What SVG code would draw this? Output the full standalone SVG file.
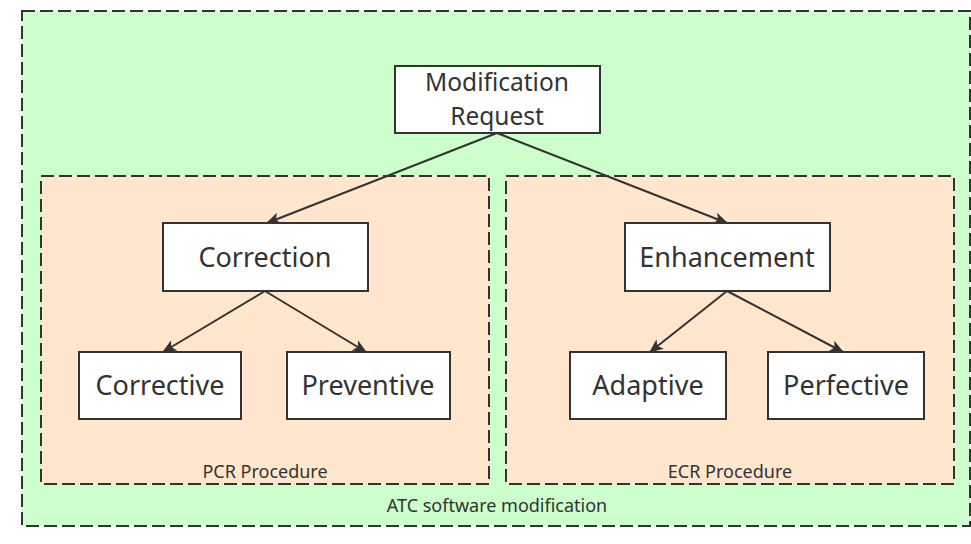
<svg xmlns="http://www.w3.org/2000/svg" width="971" height="544" viewBox="0 0 971 544">
<defs>
<style>
.grp{stroke:#333333;stroke-width:2;stroke-dasharray:13 5}
.node rect{fill:#ffffff;stroke:#333333;stroke-width:2}
.node text{font-family:"Noto Sans","Open Sans",sans-serif;font-size:27px;fill:#333333;text-anchor:middle}
.node text.two{font-size:24.5px}
.lbl{font-family:"Noto Sans","Open Sans",sans-serif;font-size:18px;fill:#333333;text-anchor:middle}
.edge{stroke:#333333;stroke-width:2;fill:none;marker-end:url(#ah)}
</style>
<marker id="ah" viewBox="0 0 14 12" refX="13" refY="6" markerWidth="14" markerHeight="12" markerUnits="userSpaceOnUse" orient="auto">
<path d="M0,0 L14,6 L0,12 L3.5,6 Z" fill="#333333"/>
</marker>
</defs>
<rect width="971" height="544" fill="#ffffff"/>
<g id="atc">
<rect class="grp" x="22" y="11" width="948" height="515" fill="#ccffcc"/>
<text class="lbl" x="497" y="512">ATC software modification</text>
</g>
<g id="pcr">
<rect class="grp" x="41" y="176" width="448" height="308" fill="#ffe6cc"/>
<text class="lbl" x="265" y="478">PCR Procedure</text>
</g>
<g id="ecr">
<rect class="grp" x="506" y="176" width="448" height="308" fill="#ffe6cc"/>
<text class="lbl" x="730" y="478">ECR Procedure</text>
</g>
<g id="connectors">
<path class="edge" d="M497,133 L267,223"/>
<path class="edge" d="M497,133 L727,223"/>
<path class="edge" d="M265,291 L163,352"/>
<path class="edge" d="M265,291 L366,352"/>
<path class="edge" d="M727,291 L650,352"/>
<path class="edge" d="M727,291 L843,352"/>
</g>
<g id="modreq" class="node">
<rect x="395" y="66" width="205" height="67"/>
<text class="two" x="497" y="91">Modification</text>
<text class="two" x="497" y="125">Request</text>
</g>
<g id="correction" class="node">
<rect x="163" y="223" width="205" height="68"/>
<text x="265" y="267">Correction</text>
</g>
<g id="enhancement" class="node">
<rect x="625" y="223" width="205" height="68"/>
<text x="727" y="267">Enhancement</text>
</g>
<g id="corrective" class="node">
<rect x="79" y="352" width="162" height="67"/>
<text x="160" y="395">Corrective</text>
</g>
<g id="preventive" class="node">
<rect x="287" y="352" width="163" height="67"/>
<text x="368" y="395">Preventive</text>
</g>
<g id="adaptive" class="node">
<rect x="570" y="352" width="156" height="67"/>
<text x="648" y="395">Adaptive</text>
</g>
<g id="perfective" class="node">
<rect x="768" y="352" width="156" height="67"/>
<text x="846" y="395">Perfective</text>
</g>
</svg>
